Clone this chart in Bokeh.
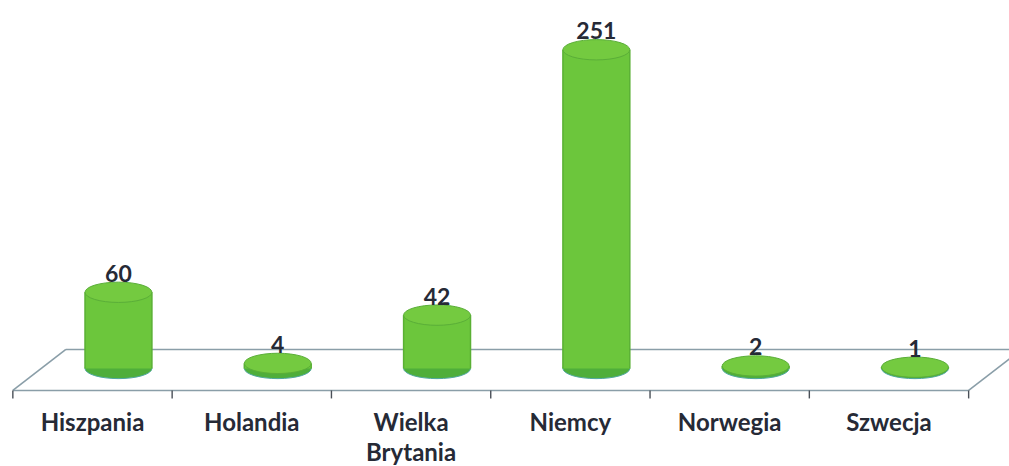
from bokeh.plotting import figure
from bokeh.models import Range1d, ColumnDataSource
from bokeh.core.properties import value
from bokeh.embed import file_html
from bokeh.resources import INLINE

# ---- data ----
categories = ["Hiszpania", "Holandia", "Wielka\nBrytania", "Niemcy", "Norwegia", "Szwecja"]
values = [60, 4, 42, 251, 2, 1]
value_labels = ["60", "4", "42", "251", "2", "1"]

# ---- geometry / style ----
W, H = 1009, 466
FONT = "Lato"
TXT = "#262a36"
FLOOR = "#8a9ea8"
BODY = "#6cc63c"
TOP = "#74ca40"
BOTTOM = "#4fae3a"

idx = list(range(len(categories)))
depth_dx = 0.333      # perspective shift of floor (x units)
depth_dy = 32.3       # perspective shift of floor (y units)
front_y = -17.3
tick_y = -23.6
label_y = -30.5
bar_shift = 0.163
bar_w = 0.42
ell_h = 16.0

p = figure(width=W, height=H, output_backend="svg", toolbar_location=None,
           x_range=Range1d(-0.5775, 5.7565), y_range=Range1d(-77.2, 289.8),
           min_border_left=0, min_border_right=0, min_border_top=0, min_border_bottom=0,
           x_axis_location=None, y_axis_location=None)
p.grid.visible = False
p.outline_line_color = None
p.background_fill_color = "white"
p.border_fill_color = "white"

# floor (parallelogram)
x0, x1 = -0.5, len(categories) - 0.5
p.segment(x0=[x0, x0, x0 + depth_dx, x1], y0=[front_y, front_y, front_y + depth_dy, front_y],
          x1=[x1, x0 + depth_dx, x1 + depth_dx, x1 + depth_dx],
          y1=[front_y, front_y + depth_dy, front_y + depth_dy, front_y + depth_dy],
          line_color=FLOOR, line_width=1.6)
# boundary ticks
bounds = [i - 0.5 for i in range(len(categories) + 1)]
p.segment(x0=bounds, x1=bounds, y0=[front_y] * len(bounds), y1=[tick_y] * len(bounds),
          line_color="#4a5058", line_width=1.4)

# cylinders
cx = [i + bar_shift for i in idx]
src = ColumnDataSource(dict(x=cx, v=values, base=[0] * len(values), lab=value_labels))
p.ellipse(x="x", y="base", width=bar_w, height=ell_h, source=src,
          fill_color=BOTTOM, line_color="#4fa8a0", line_width=1)
p.quad(left=[c - bar_w / 2 for c in cx], right=[c + bar_w / 2 for c in cx],
       bottom=[0] * len(values), top=values, fill_color=BODY, line_color=None)
p.segment(x0=[c - bar_w / 2 for c in cx], x1=[c - bar_w / 2 for c in cx], y0=[0] * len(values), y1=values,
          line_color="#5ab034", line_width=1.5)
p.segment(x0=[c + bar_w / 2 for c in cx], x1=[c + bar_w / 2 for c in cx], y0=[0] * len(values), y1=values,
          line_color="#5ab034", line_width=1.5)
p.ellipse(x="x", y="v", width=bar_w, height=ell_h, source=src,
          fill_color=TOP, line_color="#5aae38", line_width=1)

# value labels
p.text(x="x", y="v", text="lab", source=src, text_font=value(FONT), text_font_style="bold",
       text_font_size="23px", text_color=TXT, text_align="center", text_baseline="alphabetic",
       y_offset=-19)

# category labels
csrc = ColumnDataSource(dict(x=idx, y=[label_y] * len(idx), t=categories))
p.text(x="x", y="y", text="t", source=csrc, text_font=value(FONT), text_font_style="bold",
       text_font_size="24px", text_color=TXT, text_align="center", text_baseline="top",
       text_line_height=1.02)

open("out.html", "w").write(file_html(p, INLINE))
